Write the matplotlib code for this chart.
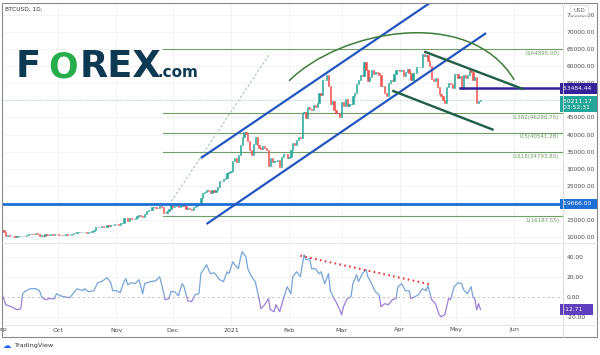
import matplotlib
matplotlib.use("Agg")
import matplotlib.pyplot as plt
import matplotlib.dates as mdates
from matplotlib.patches import Rectangle, PathPatch
from matplotlib.path import Path
from matplotlib.lines import Line2D
import numpy as np
import pandas as pd

# ---- data ----
# daily closes from 2020-08-31 to 2021-05-14 (first value only seeds the first open)
first_day = "2020-08-31"
closes = [
    11650,
    # Sep
    11970, 11410, 10250, 10510, 10170, 10280, 10370, 10130, 10240, 10360,
    10400, 10440, 10330, 10680, 10790, 10950, 10940, 10930, 11080, 10920,
    10420, 10530, 10240, 10740, 10690, 10730, 10770, 10710, 10840, 10780,
    # Oct
    10620, 10570, 10550, 10670, 10790, 10600, 10670, 10920, 11050, 11300,
    11380, 11550, 11430, 11430, 11500, 11320, 11370, 11510, 11750, 11920,
    12820, 12970, 12930, 13120, 13030, 13070, 13650, 13270, 13460, 13560, 13800,
    # Nov
    13740, 13550, 14030, 14150, 15590, 15580, 14830, 15480, 15330, 15300,
    15700, 16280, 16320, 16070, 15960, 16730, 17650, 17800, 17820, 18680,
    18700, 18420, 18370, 19160, 18720, 17150, 17140, 17720, 18180, 19700,
    # Dec
    18790, 19200, 19420, 18650, 19150, 19360, 19170, 18320, 18550, 18260,
    18040, 18800, 19170, 19270, 19440, 21310, 22800, 23140, 23870, 23480,
    22740, 23820, 23240, 23730, 24710, 26440, 26280, 27080, 27360, 28840, 29000,
    # Jan
    29370, 32130, 33000, 31990, 33990, 36820, 39370, 40670, 40240, 38240,
    35540, 33920, 37320, 39190, 36820, 36180, 35790, 36630, 36070, 35550,
    30830, 33010, 32100, 32290, 32370, 32570, 30440, 33470, 34320, 34310, 33110,
    # Feb
    33530, 35510, 37470, 36930, 38290, 39190, 38900, 46400, 46480, 44840,
    47970, 47410, 47190, 48660, 47940, 49140, 52110, 51610, 55890, 55890,
    57490, 54140, 48870, 49710, 47080, 46340, 46190, 45140,
    # Mar
    49630, 48380, 50540, 48370, 48890, 48930, 51210, 52300, 54880, 55880,
    57330, 57230, 61190, 58970, 55640, 56930, 58920, 57650, 58310, 58090,
    57380, 54090, 54350, 52300, 51310, 55050, 55880, 55800, 57630, 58750, 58920,
    # Apr
    58740, 58990, 57060, 58210, 59130, 57990, 56030, 58090, 58130, 59800,
    59800, 59900, 63570, 62960, 63230, 61480, 60040, 56250, 55720, 56470,
    53830, 51730, 51180, 50110, 49100, 54030, 55040, 54860, 53570, 57750,
    # May
    57830, 56630, 57210, 53240, 57470, 56430, 57360, 58840, 58280, 55860,
    56700, 49150, 49720, 50211.17,
]

# lower pane oscillator: (days after 2020-09-01, value)
osc_origin = "2020-09-01"
osc_points = [
    (0, 3), (2, -8), (5, -10), (8, -13), (10, -12), (11, 3), (12, 5), (15, 8),
    (18, 8), (20, 6), (21, 0), (23, -3), (25, -2), (28, -2), (29, 3), (31, 1),
    (33, 0), (36, -1), (37, 1), (40, 8), (43, 6), (44, 8), (46, 5), (49, 6),
    (51, 14), (53, 15), (56, 19), (58, 14), (59, 6), (61, 6), (63, 4), (65, 15),
    (66, 18), (67, 12), (69, 14), (71, 13), (73, 17), (75, 3), (76, 13), (79, 15),
    (82, 16), (84, 20), (85, 13), (87, -3), (89, -2), (90, 5), (92, 5), (94, 1),
    (96, 13), (97, 10), (99, -4), (101, -5), (103, 2), (105, 3), (106, 23),
    (109, 32), (111, 23), (113, 24), (114, 22), (116, 17), (118, 15), (120, 25),
    (121, 23), (123, 35), (124, 32), (126, 28), (127, 38), (128, 45), (130, 40),
    (131, 28), (133, 20), (135, 15), (137, -2), (138, -12), (140, -8), (142, -2),
    (143, -13), (145, -15), (146, -8), (148, -15), (150, -2), (152, 10), (154, 3),
    (155, 20), (157, 25), (159, 20), (161, 42), (162, 37), (164, 38), (165, 28),
    (167, 28), (169, 23), (170, 25), (172, 13), (174, 23), (175, 6), (177, -2),
    (178, -5), (180, -13), (181, -18), (182, -10), (184, -2), (186, 0), (187, 13),
    (189, 22), (190, 15), (192, 23), (194, 27), (195, 20), (197, 13), (199, 5),
    (201, 2), (202, -10), (204, -7), (206, -8), (208, -3), (210, -2), (211, 10),
    (213, 13), (215, 6), (217, 6), (218, -2), (220, 0), (222, 2), (224, 8),
    (226, 6), (227, 11), (229, -3), (231, -7), (233, -18), (234, -20), (236, -18),
    (238, -2), (239, -3), (241, 10), (243, 14), (245, 13), (246, 7), (248, 3),
    (250, 10), (251, 0), (252, -2), (253, -13), (254, -7), (255, -12.71),
]

# drawings
channel_up_top = [("2020-12-16", 33100), ("2021-04-17", 78500)]
channel_up_bottom = [("2020-12-19", 13800), ("2021-05-17", 69700)]
channel_down_top = [("2021-04-14", 64300), ("2021-06-06", 53250)]
channel_down_bottom = [("2021-03-28", 52850), ("2021-05-21", 41350)]
dotted_trend = [("2020-11-29", 19400), ("2021-01-22", 63900)]
arc_points = [("2021-02-01", 55700), ("2021-02-28", 70600),
              ("2021-05-08", 77900), ("2021-06-01", 56000)]
osc_trend = [("2021-02-07", 41), ("2021-04-18", 12)]

fib_high = 64895.00
fib_low = 16187.55
fib_ratios = [0, 0.382, 0.5, 0.618, 1]
fib_start = "2020-11-26"

support = 19666.00
resistance = 53484.44
resistance_start = "2021-05-03"
last_price = 50211.17
last_osc = -12.71
countdown = "03:52:31"

month_starts = ["2020-09-01", "2020-10-01", "2020-11-01", "2020-12-01", "2021-01-01",
                "2021-02-01", "2021-03-01", "2021-04-01", "2021-05-01", "2021-06-01"]
month_labels = ["Sep", "Oct", "Nov", "Dec", "2021", "Feb", "Mar", "Apr", "May", "Jun"]
price_ticks = list(range(10000, 75001, 5000))
hidden_ticks = [20000, 50000]  # covered by the badges on the chart
osc_ticks = [-20, 0, 20, 40]

# ---- colours ----
UP, DOWN = "#26a69a", "#ef5350"
FIB = "#6f9f66"
BLUE = "#2355c0"
SUPPORT_BLUE = "#1e6fd6"
DARK_GREEN = "#1f5e45"
INDIGO = "#33229a"
GRID = "#f0f1f4"
TXT = "#4a4a4a"


def dn(s):
    return mdates.date2num(pd.Timestamp(s))


def seg(pts):
    return [dn(d) for d, _ in pts], [v for _, v in pts]


fig = plt.figure(figsize=(6, 3.55), dpi=100)
W, H = 600, 355
ax1 = fig.add_axes([2 / W, (H - 243) / H, 561 / W, 240 / H])
ax2 = fig.add_axes([2 / W, (H - 325) / H, 561 / W, 82 / H], sharex=ax1)

xmin, xmax = dn("2020-09-01"), dn("2021-06-27")
month_x = [dn(m) for m in month_starts]

# ---- candles ----
dates = mdates.date2num(pd.date_range(first_day, periods=len(closes)))[1:]
c = np.array(closes[1:], dtype=float)
o = np.array(closes[:-1], dtype=float)
cols = np.where(c >= o, UP, DOWN)
ax1.bar(dates, c - o, bottom=o, width=0.7, color=cols, edgecolor=cols, linewidth=0.4, zorder=3)

# fib levels
for r in fib_ratios:
    lvl = fib_high - r * (fib_high - fib_low)
    ax1.plot([dn(fib_start), xmax], [lvl, lvl], color=FIB, lw=0.8, zorder=2)
    ax1.text(xmax - 2, lvl - 500, f"{r:g}({lvl:.2f})", color=FIB, fontsize=4,
             ha="right", va="top", zorder=4)

# support / resistance / last price
ax1.axhline(support, color=SUPPORT_BLUE, lw=2, zorder=4)
ax1.plot([dn(resistance_start), xmax], [resistance, resistance], color=INDIGO, lw=1.8, zorder=5)
ax1.axhline(last_price, color="#8fd0c8", lw=0.6, ls=(0, (1, 2)), zorder=1)

# trend drawings
for pts, col, lw in [(channel_up_top, BLUE, 1.6), (channel_up_bottom, BLUE, 1.6),
                     (channel_down_top, DARK_GREEN, 1.7), (channel_down_bottom, DARK_GREEN, 1.7)]:
    xs, ys = seg(pts)
    ax1.plot(xs, ys, color=col, lw=lw, solid_capstyle="butt", zorder=5)
xs, ys = seg(dotted_trend)
ax1.plot(xs, ys, color="#a3c2a6", lw=0.8, ls=(0, (2, 2)), zorder=2)

ax_, ay_ = seg(arc_points)
arc = Path(list(zip(ax_, ay_)), [Path.MOVETO, Path.CURVE4, Path.CURVE4, Path.CURVE4])
ax1.add_patch(PathPatch(arc, fill=False, ec="#3f7d3a", lw=1.1, zorder=5))

ax1.set_xlim(xmin, xmax)
ax1.set_ylim(8250, 78500)
ax1.set_yticks(price_ticks)
ax1.set_yticklabels(["" if p in hidden_ticks else f"{p:.2f}" for p in price_ticks])

# ---- oscillator ----
ox = [dn(osc_origin) + d for d, _ in osc_points]
ov = [v for _, v in osc_points]
above = Rectangle((xmin, 0), xmax - xmin, 100, transform=ax2.transData)
below = Rectangle((xmin, -100), xmax - xmin, 100, transform=ax2.transData)
l1, = ax2.plot(ox, ov, color="#76a5d8", lw=0.9, zorder=3)
l1.set_clip_path(above)
l2, = ax2.plot(ox, ov, color="#9b7fd8", lw=0.9, zorder=3)
l2.set_clip_path(below)
ax2.axhline(0, color="#bdbdbd", lw=0.6, ls=(0, (3, 3)), zorder=1)
xs, ys = seg(osc_trend)
ax2.plot(xs, ys, color="#e53935", lw=1.5, ls=(0, (0.8, 1.6)), zorder=4)
ax2.set_ylim(-28.3, 53.7)
ax2.set_yticks(osc_ticks)
ax2.set_yticklabels([f"{t:.2f}" for t in osc_ticks])

ax2.set_xticks(month_x)
ax2.set_xticklabels(month_labels)

for ax in (ax1, ax2):
    for s in ax.spines.values():
        s.set_visible(False)
    ax.yaxis.tick_right()
    ax.tick_params(axis="y", length=0, pad=2.4, labelsize=4.3, labelcolor=TXT)
    ax.tick_params(axis="x", length=0, pad=1.8, labelsize=4.5, labelcolor=TXT)
    ax.grid(True, color=GRID, lw=0.6, zorder=0)
    ax.set_axisbelow(True)
ax1.tick_params(axis="x", labelbottom=False)
ax2.grid(False, axis="y")
for t in [-20, 20, 40]:
    ax2.axhline(t, color=GRID, lw=0.6, zorder=0)

# ---- axis badges ----
def badge(ax, y, txt, fc):
    ax.text(1.0, y, txt, transform=ax.get_yaxis_transform(), fontsize=4.3, color="white",
            ha="left", va="center", clip_on=False, zorder=10,
            bbox=dict(boxstyle="square,pad=0.45", fc=fc, ec="none"))

badge(ax1, resistance, f"{resistance:.2f}  ", INDIGO)
badge(ax1, support, f"{support:.2f}  ", SUPPORT_BLUE)
ax1.text(1.0, last_price - 1300, f"{last_price:.2f}  \n{countdown}   ", transform=ax1.get_yaxis_transform(),
         fontsize=4.3, color="white", ha="left", va="center", clip_on=False, zorder=10,
         linespacing=1.25, bbox=dict(boxstyle="square,pad=0.45", fc="#22a699", ec="none"))
badge(ax2, last_osc, f"{last_osc:.2f}    ", "#5e3fbe")

# ---- frame lines ----
fig.add_artist(Rectangle((2 / W, 1 - 337 / H), 595 / W, 334 / H, transform=fig.transFigure,
                         fill=False, ec="#8a8a8a", lw=0.8))
fig.add_artist(Line2D([563 / W, 563 / W], [1 - 337 / H, 1 - 3 / H], transform=fig.transFigure,
                      color="#d6d6d6", lw=0.6))
fig.add_artist(Line2D([2 / W, 597 / W], [1 - 243 / H, 1 - 243 / H], transform=fig.transFigure,
                      color="#e2e2e2", lw=0.6))
fig.add_artist(Line2D([2 / W, 597 / W], [1 - 325 / H, 1 - 325 / H], transform=fig.transFigure,
                      color="#e2e2e2", lw=0.6))

# ---- texts ----
fig.text(5 / W, 1 - 9.5 / H, "BTCUSD, 1D,", fontsize=4.2, color="#333333", va="center")
fig.text(579 / W, 1 - 10 / H, "USD", fontsize=4, color="#666666", ha="center", va="center",
         bbox=dict(boxstyle="square,pad=0.5", fc="white", ec="#cccccc", lw=0.4))

NAVY, LOGO_GREEN = "#0d3a52", "#27ae4a"
base = 1 - 77 / H
fig.text(16 / W, base, "F", fontsize=26.5, weight="bold", color=NAVY, va="baseline")
fig.text(48 / W, base, "O", fontsize=25, weight="bold", color=LOGO_GREEN, va="baseline")
fig.text(80 / W, base, "REX", fontsize=26.5, weight="bold", color=NAVY, va="baseline")
fig.text(158 / W, base, ".com", fontsize=11, weight="bold", color=NAVY, va="baseline")

fig.text(3 / W, 1 - 345 / H, "\u2601", fontsize=6, color="#2962ff", va="center")
fig.text(14 / W, 1 - 345 / H, "TradingView", fontsize=4.6, color="#333333", va="center")

fig.savefig("out.png", dpi=100)
